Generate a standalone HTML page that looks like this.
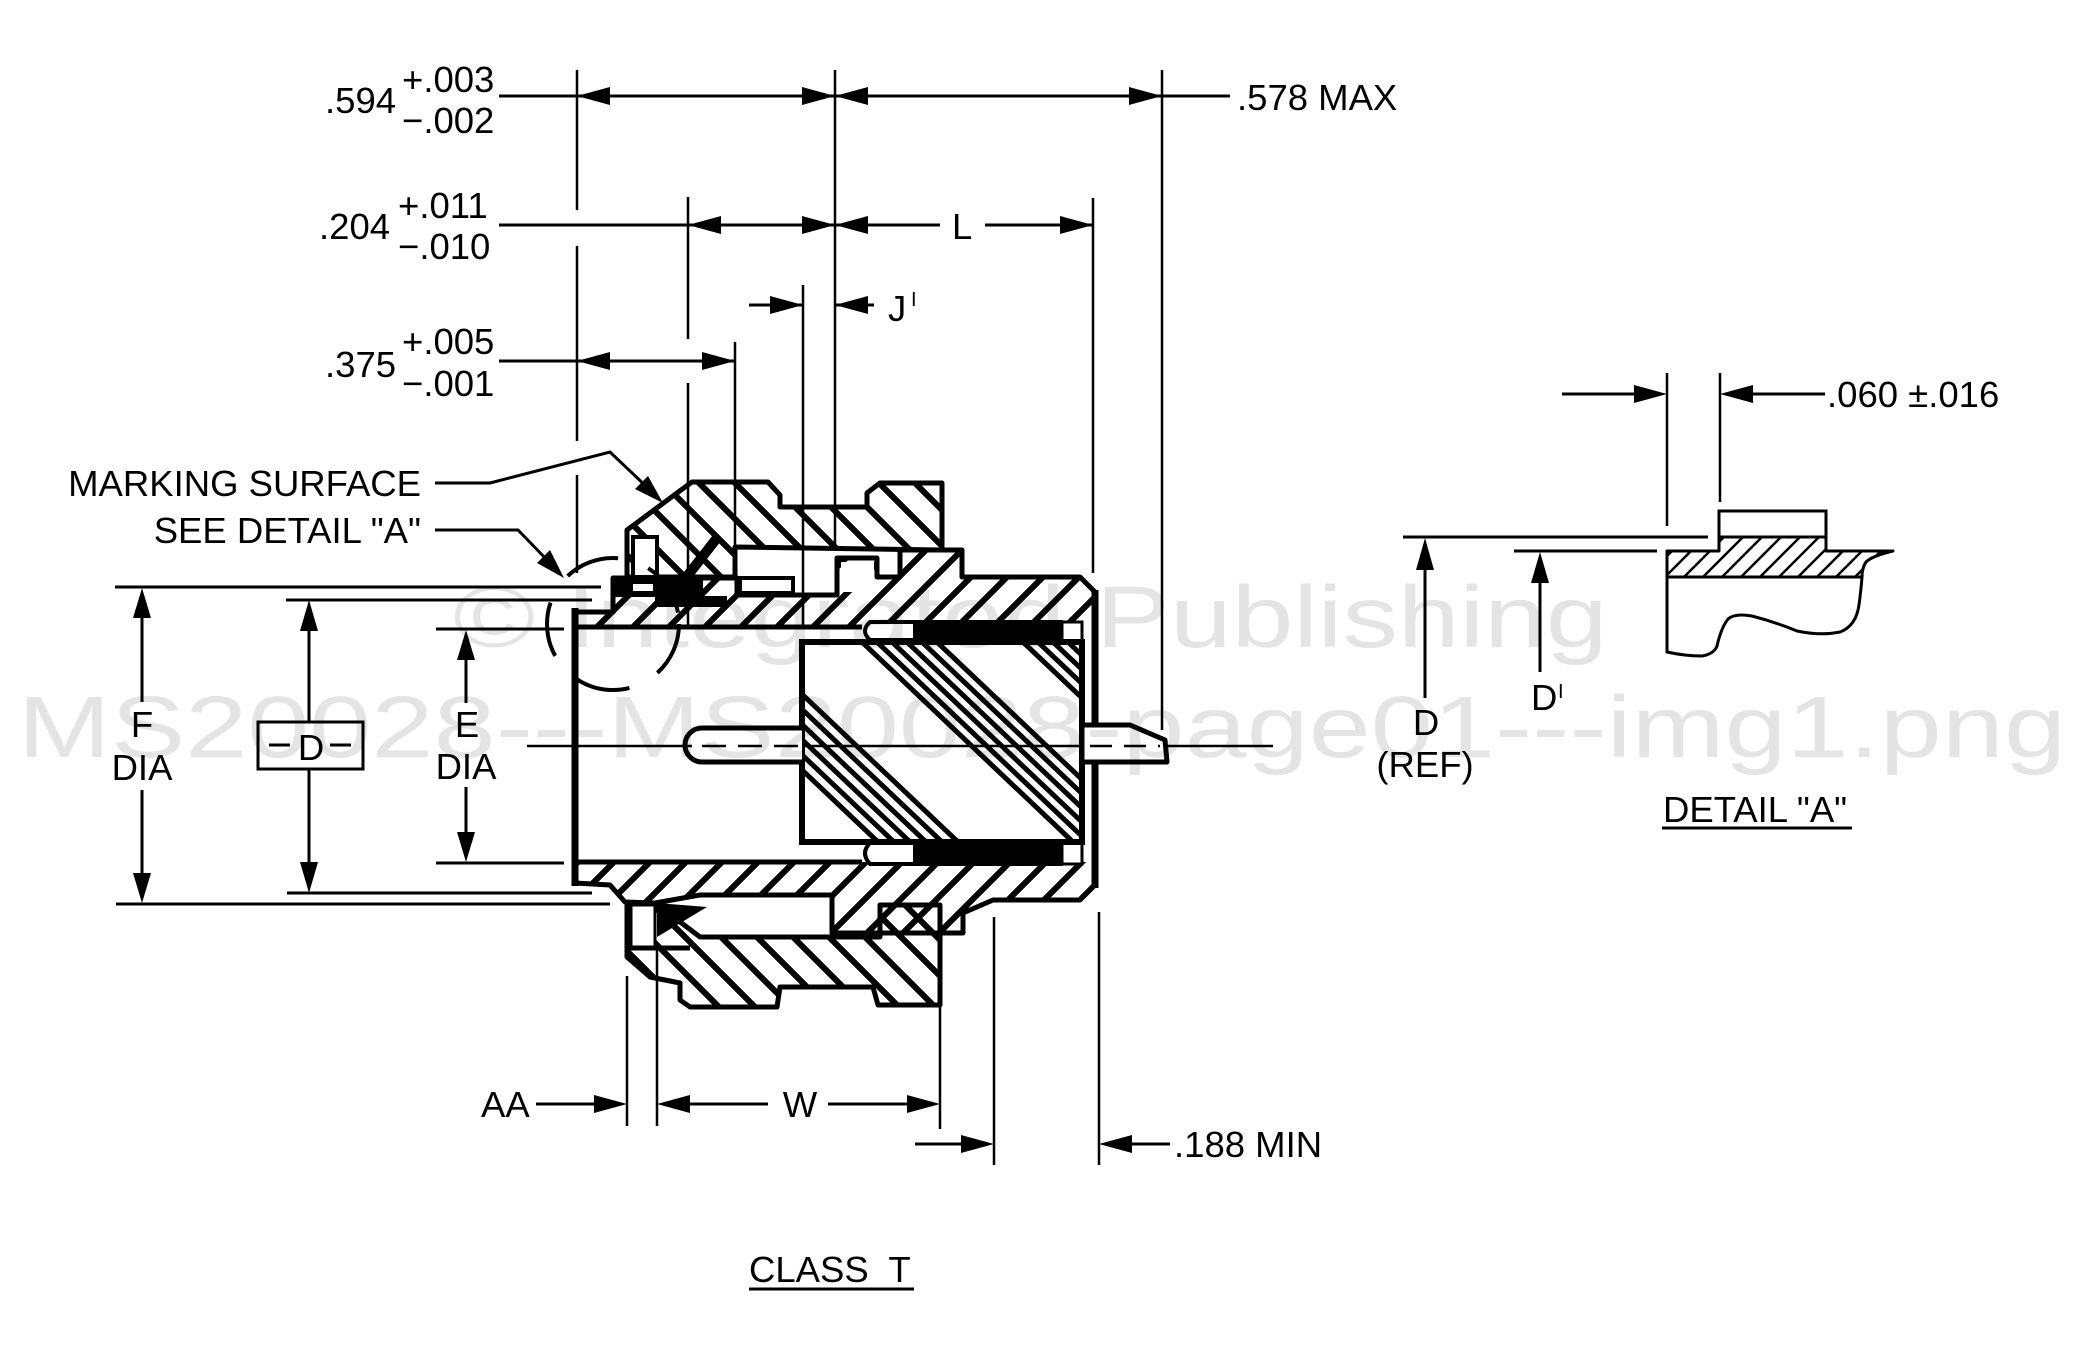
<!DOCTYPE html>
<html><head><meta charset="utf-8"><style>
html,body{margin:0;padding:0;background:#fff;}
svg{display:block;}
text{font-family:"Liberation Sans",Arial,sans-serif;font-size:36.5px;fill:#000;}
</style></head><body>
<svg width="2073" height="1353" viewBox="0 0 2073 1353" xmlns="http://www.w3.org/2000/svg">
<defs>
<pattern id="hb" patternUnits="userSpaceOnUse" width="36" height="36"><path d="M-9,-9L45,45M-9,27L9,45M27,-9L45,9" stroke="#000" stroke-width="6"/></pattern>
<pattern id="hf" patternUnits="userSpaceOnUse" width="36" height="36"><path d="M-9,45L45,-9M-9,9L9,-9M27,45L45,27" stroke="#000" stroke-width="6"/></pattern>
<pattern id="hd" patternUnits="userSpaceOnUse" width="19" height="19"><path d="M-5,24L24,-5M-5,5L5,-5M14,24L24,14" stroke="#000" stroke-width="2.5"/></pattern>
<clipPath id="ins"><rect x="802" y="642" width="280" height="200"/></clipPath>
</defs>
<rect width="2073" height="1353" fill="#fff"/>

<!-- ===== TOP DIMENSIONS ===== -->
<g stroke="#000" stroke-width="3" fill="none">
<line x1="499" y1="96" x2="1230" y2="96"/>
<line x1="499" y1="225" x2="940" y2="225"/>
<line x1="985" y1="225" x2="1093" y2="225"/>
<line x1="749" y1="305" x2="803" y2="305"/>
<line x1="835" y1="305" x2="874" y2="305"/>
<line x1="499" y1="361" x2="735" y2="361"/>
</g>
<g stroke="#000" stroke-width="2.5">
<line x1="577" y1="70" x2="577" y2="210"/>
<line x1="577" y1="246" x2="577" y2="441"/>
<line x1="577" y1="475" x2="577" y2="573"/>
<line x1="835" y1="70" x2="835" y2="550"/>
<line x1="1162" y1="70" x2="1162" y2="730"/>
<line x1="688" y1="197" x2="688" y2="339"/>
<line x1="688" y1="383" x2="688" y2="728"/>
<line x1="1093" y1="198" x2="1093" y2="573"/>
<line x1="803" y1="285" x2="803" y2="640"/>
<line x1="735" y1="342" x2="735" y2="568"/>
</g>
<g fill="#000">
<polygon points="577,96 610,87 610,105"/>
<polygon points="835,96 802,87 802,105"/>
<polygon points="835,96 868,87 868,105"/>
<polygon points="1162,96 1129,87 1129,105"/>
<polygon points="688,225 721,216 721,234"/>
<polygon points="835,225 802,216 802,234"/>
<polygon points="835,225 868,216 868,234"/>
<polygon points="1093,225 1060,216 1060,234"/>
<polygon points="803,305 770,296 770,314"/>
<polygon points="835,305 868,296 868,314"/>
<polygon points="577,361 610,352 610,370"/>
<polygon points="735,361 702,352 702,370"/>
</g>
<text x="325" y="113">.594</text>
<text x="402" y="92">+.003</text>
<text x="402" y="133">−.002</text>
<text x="1237" y="110">.578 MAX</text>
<text x="319" y="239">.204</text>
<text x="398" y="218">+.011</text>
<text x="398" y="259">−.010</text>
<text x="952" y="239">L</text>
<text x="888" y="321">J</text>
<text x="911" y="306" style="font-size:20px">I</text>
<text x="325" y="377">.375</text>
<text x="402" y="354">+.005</text>
<text x="402" y="396">−.001</text>

<!-- leaders -->
<text x="421" y="496" text-anchor="end">MARKING SURFACE</text>
<text x="421" y="543" text-anchor="end">SEE DETAIL "A"</text>
<g stroke="#000" stroke-width="3" fill="none">
<polyline points="435,483 490,483 610,452 650,490"/>
<polyline points="435,530 518,530 550,563"/>
</g>
<polygon points="663,503 635,489 648,476" fill="#000"/>
<polygon points="564,578 537,563 550,550" fill="#000"/>

<!-- ===== BODY ===== -->
<polygon points="575,612 613,612 613,578 737,578 737,595 837,595 837,558 877,558 877,577 900,577 900,550 962,550 962,577 1080,577 1095,592 1095,885 1080,900 993,900 963,913 963,933 832,933 832,895 700,895 655,903 625,902 610,885 575,883" fill="url(#hf)" stroke="#000" stroke-width="5" stroke-linejoin="round"/>
<rect x="841" y="562" width="33" height="30" fill="#fff"/>
<rect x="578" y="627" width="514" height="235" fill="#fff"/>
<line x1="575" y1="627" x2="862" y2="627" stroke="#000" stroke-width="5"/>
<line x1="575" y1="862" x2="862" y2="862" stroke="#000" stroke-width="5"/>
<line x1="575" y1="608" x2="575" y2="886" stroke="#000" stroke-width="7"/>
<line x1="1095" y1="590" x2="1095" y2="888" stroke="#000" stroke-width="7"/>
<path d="M913,622 L870,622 Q860,631 870,640 L913,640" fill="#fff" stroke="#000" stroke-width="4"/>
<rect x="913" y="620" width="150" height="21" fill="#000"/>
<rect x="1062" y="622" width="20" height="20" fill="#fff" stroke="#000" stroke-width="3"/>
<path d="M913,843 L870,843 Q860,853 870,864 L913,864" fill="#fff" stroke="#000" stroke-width="4"/>
<rect x="913" y="842" width="150" height="24" fill="#000"/>
<rect x="1062" y="843" width="20" height="21" fill="#fff" stroke="#000" stroke-width="3"/>
<rect x="802" y="642" width="280" height="200" fill="#fff"/>
<g clip-path="url(#ins)" stroke="#000" stroke-width="5">
<line x1="862" y1="642" x2="1073" y2="842"/>
<line x1="877" y1="642" x2="1088" y2="842"/>
<line x1="892" y1="642" x2="1103" y2="842"/>
<line x1="907" y1="642" x2="1118" y2="842"/>
<line x1="922" y1="642" x2="1133" y2="842"/>
<line x1="937" y1="642" x2="1148" y2="842"/>
<line x1="667" y1="642" x2="878" y2="842"/>
<line x1="683" y1="642" x2="894" y2="842"/>
<line x1="699" y1="642" x2="910" y2="842"/>
<line x1="715" y1="642" x2="926" y2="842"/>
<line x1="731" y1="642" x2="942" y2="842"/>
<line x1="747" y1="642" x2="958" y2="842"/>
<line x1="1023" y1="642" x2="1234" y2="842"/>
<line x1="1038" y1="642" x2="1249" y2="842"/>
<line x1="1053" y1="642" x2="1264" y2="842"/>
<line x1="1068" y1="642" x2="1279" y2="842"/>
</g>
<rect x="802" y="642" width="280" height="200" fill="none" stroke="#000" stroke-width="6"/>
<polygon points="627,530 677,493 692,482 768,482 780,495 780,507 867,507 867,493 880,483 942,483 942,550 735,547 735,577 627,577" fill="url(#hb)" stroke="#000" stroke-width="5" stroke-linejoin="round"/>
<rect x="740" y="578" width="53" height="15" fill="#fff" stroke="#000" stroke-width="4"/>
<rect x="633" y="537" width="24" height="40" fill="#fff" stroke="#000" stroke-width="4"/>
<rect x="613" y="580" width="90" height="17" fill="#000"/>
<rect x="655" y="596" width="72" height="11" fill="#000"/>
<line x1="717" y1="538" x2="670" y2="598" stroke="#000" stroke-width="10"/>
<rect x="633" y="584" width="20" height="7" fill="#fff"/>
<polygon points="627,903 655,903 700,937 880,937 880,905 940,905 940,1005 878,1005 873,987 780,987 777,1007 690,1007 680,1000 680,983 650,977 627,957" fill="url(#hb)" stroke="#000" stroke-width="5" stroke-linejoin="round"/>
<rect x="631" y="905" width="24" height="42" fill="#fff" stroke="#000" stroke-width="3"/>
<polygon points="657,903 707,907 657,937" fill="#000"/>
<line x1="627" y1="948" x2="690" y2="948" stroke="#000" stroke-width="5"/>

<path d="M802,728 L702,728 A17,17 0 0 0 702,762 L802,762" fill="#fff" stroke="#000" stroke-width="5"/>
<polygon points="1082,725 1130,725 1165,740 1167,762 1082,762" fill="#fff" stroke="#000" stroke-width="5" stroke-linejoin="round"/>
<g stroke="#000" stroke-width="2.5">
<line x1="527" y1="746" x2="692" y2="746"/>
<line x1="702" y1="746" x2="802" y2="746" stroke-dasharray="24 12"/>
<line x1="802" y1="746" x2="1082" y2="746"/>
<line x1="1090" y1="746" x2="1160" y2="746" stroke-dasharray="22 12"/>
<line x1="1167" y1="746" x2="1273" y2="746"/>
</g>
<circle cx="613" cy="624" r="66" fill="none" stroke="#000" stroke-width="4" stroke-dasharray="55 32"/>

<!-- ===== LEFT DIMENSIONS ===== -->
<g stroke="#000" stroke-width="3">
<line x1="115" y1="587" x2="601" y2="587"/>
<line x1="116" y1="904" x2="610" y2="904"/>
<line x1="286" y1="600" x2="592" y2="600"/>
<line x1="287" y1="893" x2="592" y2="893"/>
<line x1="436" y1="629" x2="564" y2="629"/>
<line x1="436" y1="863" x2="564" y2="863"/>
<line x1="142" y1="600" x2="142" y2="702"/>
<line x1="142" y1="790" x2="142" y2="892"/>
<line x1="309" y1="612" x2="309" y2="722"/>
<line x1="309" y1="769" x2="309" y2="881"/>
<line x1="466" y1="640" x2="466" y2="703"/>
<line x1="466" y1="787" x2="466" y2="852"/>
</g>
<g fill="#000">
<polygon points="142,588 133,618 151,618"/>
<polygon points="142,903 133,873 151,873"/>
<polygon points="309,600 300,631 318,631"/>
<polygon points="309,893 300,862 318,862"/>
<polygon points="466,630 457,660 475,660"/>
<polygon points="466,862 457,832 475,832"/>
</g>
<text x="142" y="737" text-anchor="middle">F</text>
<text x="142" y="780" text-anchor="middle">DIA</text>
<rect x="258" y="722" width="105" height="47" fill="none" stroke="#000" stroke-width="3"/>
<line x1="269" y1="745" x2="290" y2="745" stroke="#000" stroke-width="3"/>
<line x1="330" y1="745" x2="351" y2="745" stroke="#000" stroke-width="3"/>
<text x="311" y="760" text-anchor="middle">D</text>
<text x="467" y="737" text-anchor="middle">E</text>
<text x="466" y="779" text-anchor="middle">DIA</text>

<!-- ===== BOTTOM DIMENSIONS ===== -->
<g stroke="#000" stroke-width="2.5">
<line x1="627" y1="976" x2="627" y2="1126"/>
<line x1="657" y1="948" x2="657" y2="1126"/>
<line x1="940" y1="1004" x2="940" y2="1129"/>
<line x1="994" y1="917" x2="994" y2="1165"/>
<line x1="1099" y1="912" x2="1099" y2="1165"/>
</g>
<g stroke="#000" stroke-width="3">
<line x1="536" y1="1104" x2="600" y2="1104"/>
<line x1="680" y1="1104" x2="768" y2="1104"/>
<line x1="828" y1="1104" x2="910" y2="1104"/>
<line x1="915" y1="1144" x2="965" y2="1144"/>
<line x1="1128" y1="1144" x2="1170" y2="1144"/>
</g>
<g fill="#000">
<polygon points="627,1104 594,1095 594,1113"/>
<polygon points="657,1104 690,1095 690,1113"/>
<polygon points="940,1104 907,1095 907,1113"/>
<polygon points="994,1144 961,1135 961,1153"/>
<polygon points="1099,1144 1132,1135 1132,1153"/>
</g>
<text x="481" y="1117">AA</text>
<text x="800" y="1117" text-anchor="middle">W</text>
<text x="1174" y="1157">.188 MIN</text>
<text x="749" y="1282">CLASS&#160; T</text>
<line x1="749" y1="1289" x2="914" y2="1289" stroke="#000" stroke-width="3"/>

<!-- ===== DETAIL A ===== -->
<g stroke="#000" stroke-width="3">
<line x1="1562" y1="394" x2="1640" y2="394"/>
<line x1="1745" y1="394" x2="1825" y2="394"/>
<line x1="1403" y1="537" x2="1708" y2="537"/>
<line x1="1514" y1="551" x2="1657" y2="551"/>
<line x1="1425" y1="560" x2="1425" y2="698"/>
<line x1="1540" y1="575" x2="1540" y2="672"/>
</g>
<g stroke="#000" stroke-width="2.5">
<line x1="1667" y1="373" x2="1667" y2="526"/>
<line x1="1720" y1="373" x2="1720" y2="502"/>
</g>
<g fill="#000">
<polygon points="1667,394 1634,385 1634,403"/>
<polygon points="1720,394 1753,385 1753,403"/>
<polygon points="1425,538 1416,570 1434,570"/>
<polygon points="1540,552 1531,583 1549,583"/>
</g>
<text x="1827" y="407">.060 ±.016</text>
<rect x="1719" y="511" width="107" height="26" fill="#fff" stroke="#000" stroke-width="3"/>
<path d="M1667,551 L1719,551 L1719,537 L1826,537 L1826,551 L1893,551 Q1872,556 1866,562 Q1862,568 1862,577 L1667,577 Z" fill="url(#hd)" stroke="#000" stroke-width="3" stroke-linejoin="round"/>
<path d="M1667,577 L1667,652 Q1685,656 1702,656 Q1714,654 1717,646 Q1721,628 1728,619 Q1735,613 1752,616 Q1775,622 1797,631 Q1820,636 1840,632 Q1856,626 1859,605 Q1861,590 1862,577" fill="none" stroke="#000" stroke-width="3"/>
<text x="1426" y="735" text-anchor="middle">D</text>
<text x="1425" y="777" text-anchor="middle">(REF)</text>
<text x="1531" y="710">D</text>
<text x="1558" y="698" style="font-size:20px">I</text>
<text x="1663" y="822">DETAIL "A"</text>
<line x1="1662" y1="828" x2="1852" y2="828" stroke="#000" stroke-width="3"/>

<!-- watermark -->
<g style="mix-blend-mode:multiply" transform="scale(1.28,1)">
<text x="354" y="647" textLength="902" lengthAdjust="spacing" style="font-size:87px;fill:#e4e4e4">© Integrated Publishing</text>
<text x="14" y="757" textLength="1600" lengthAdjust="spacing" style="font-size:87px;fill:#e4e4e4">MS20028---MS20028-page01---img1.png</text>
</g>
</svg>
</body></html>
